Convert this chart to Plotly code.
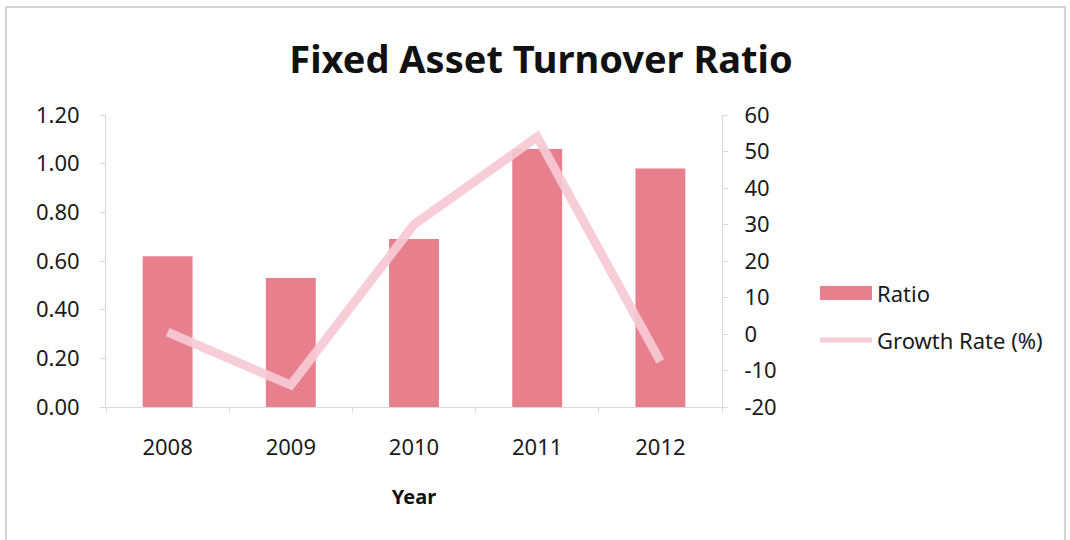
import plotly.graph_objects as go

years = ["2008", "2009", "2010", "2011", "2012"]
ratio = [0.62, 0.53, 0.69, 1.06, 0.98]
growth_rate = [0.5, -14, 30, 54, -7.5]

ratio_ticks = [0, 0.2, 0.4, 0.6, 0.8, 1.0, 1.2]
growth_ticks = [-20, -10, 0, 10, 20, 30, 40, 50, 60]
growth_tick_labels = ["-20", "-10", "0", "10", "20", "30", "40", "50", "60"]

BAR_COLOR = "#e77f8d"
LINE_COLOR = "rgba(246, 202, 212, 0.92)"
AXIS_COLOR = "#d9d9d9"
FONT = "Noto Sans"

W, H = 1070, 540
L, R, T, B = 106, 722, 115, 407  # plot area in pixels


def px(x):
    return (x - L) / (R - L)


def py(y):
    return (B - y) / (B - T)


fig = go.Figure()
fig.add_trace(go.Bar(
    x=years, y=ratio, name="Ratio", marker_color=BAR_COLOR,
    marker_line_width=0, width=0.405, yaxis="y",
))
fig.add_trace(go.Scatter(
    x=years, y=growth_rate, name="Growth Rate (%)", mode="lines",
    line=dict(color=LINE_COLOR, width=9), yaxis="y2",
))

axis_font = dict(family=FONT, size=22, color="#1a1a1a")

fig.update_layout(
    width=W, height=H,
    margin=dict(l=L, r=W - R, t=T, b=H - B),
    paper_bgcolor="white", plot_bgcolor="white",
    showlegend=False,
    title=dict(
        text="<b>Fixed Asset Turnover Ratio</b>",
        x=541 / W, xanchor="center", y=1 - 60 / H, yanchor="middle",
        font=dict(family=FONT, size=38, color="#111111"),
    ),
    xaxis=dict(
        type="category", showgrid=False, showline=True, linecolor=AXIS_COLOR,
        linewidth=1, ticks="outside", tickson="boundaries", ticklen=5,
        tickcolor=AXIS_COLOR, tickfont=axis_font, ticklabelstandoff=21,
        title=dict(text="<b>Year</b>", font=dict(family=FONT, size=20, color="#111111"),
                   standoff=29),
    ),
    yaxis=dict(
        range=[0, 1.2], tickvals=ratio_ticks, tickformat=".2f", showgrid=False,
        zeroline=False, showline=True, linecolor=AXIS_COLOR, linewidth=1,
        ticks="outside", ticklen=5, tickcolor=AXIS_COLOR, tickfont=axis_font,
        ticklabelstandoff=16,
    ),
    yaxis2=dict(
        range=[-20, 60], tickvals=growth_ticks, ticktext=growth_tick_labels,
        overlaying="y", side="right",
        showgrid=False, zeroline=False, showline=True, linecolor=AXIS_COLOR,
        linewidth=1, ticks="outside", ticklen=5, tickcolor=AXIS_COLOR,
        tickfont=axis_font, ticklabelstandoff=12,
    ),
)

# chart frame
fig.add_shape(type="rect", xref="paper", yref="paper",
              x0=px(6), x1=px(1065), y0=py(545), y1=py(7),
              line=dict(color="#d4d4d4", width=2), layer="below")

# legend
fig.add_shape(type="rect", xref="paper", yref="paper",
              x0=px(820), x1=px(872), y0=py(300), y1=py(286),
              fillcolor=BAR_COLOR, line_width=0)
fig.add_shape(type="line", xref="paper", yref="paper",
              x0=px(820), x1=px(872), y0=py(340), y1=py(340),
              line=dict(color=LINE_COLOR, width=5))
fig.add_annotation(text="Ratio", xref="paper", yref="paper",
                   x=px(875), y=py(293), xanchor="left", yanchor="middle",
                   showarrow=False, font=axis_font)
fig.add_annotation(text="Growth Rate (%)", xref="paper", yref="paper",
                   x=px(875), y=py(340), xanchor="left", yanchor="middle",
                   showarrow=False, font=axis_font)

fig.write_html("out.html")
